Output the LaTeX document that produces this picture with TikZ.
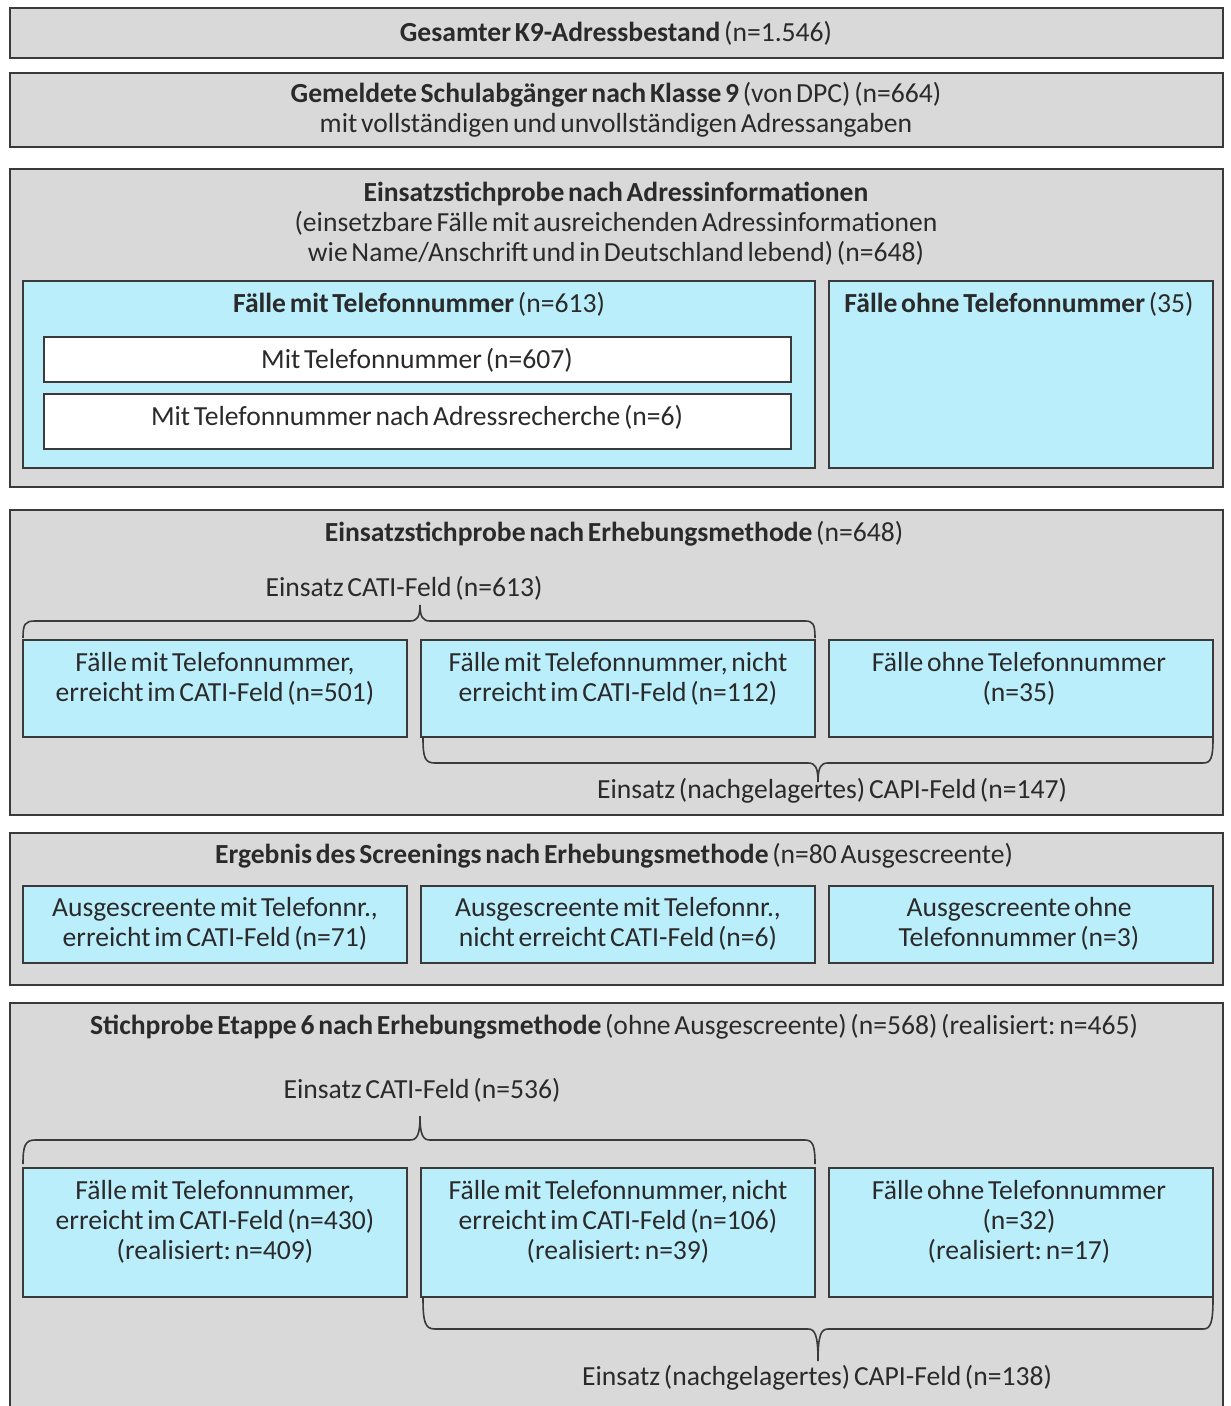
\documentclass[tikz,border=0pt]{standalone}
\usepackage{fontspec}
\setmainfont{Carlito}[WordSpace=0.6]
\usetikzlibrary{fit}
\definecolor{boxgray}{HTML}{D9D9D9}
\definecolor{boxblue}{HTML}{BBEEFB}
\definecolor{edge}{HTML}{3A3A3A}
\definecolor{ink}{HTML}{2A2A2A}
\frenchspacing
\begin{document}
\begin{tikzpicture}[x=0.5pt,y=-0.5pt,
  graybox/.style={draw=edge, fill=boxgray, line width=0.9pt, inner sep=0pt},
  bluebox/.style={draw=edge, fill=boxblue, line width=0.8pt, inner sep=0pt},
  whitebox/.style={draw=edge, fill=white, line width=0.8pt, inner sep=0pt},
  txt/.style={text=ink, font=\fontsize{13.8}{15}\selectfont, align=center, inner sep=0pt},
  bracepath/.style={draw=edge, line width=0.8pt}]
\useasboundingbox (0,0) rectangle (1230,1406);
\clip (0,0) rectangle (1230,1406);

% box 1
\node[graybox, fit={(10,8)(1223,58)}] (b1) {};
\node[txt] (t1) at (616,33) {\textbf{Gesamter K9-Adressbestand} (n=1.546)};

% box 2
\node[graybox, fit={(10,73)(1223,147)}] (b2) {};
\node[txt] (t2) at (616,110) {\textbf{Gemeldete Schulabgänger nach Klasse 9} (von DPC) (n=664)\\mit vollständigen und unvollständigen Adressangaben};

% box 3
\node[graybox, fit={(10,169)(1223,487)}] (b3) {};
\node[txt] (t3) at (616,224) {\textbf{Einsatzstichprobe nach Adressinformationen}\\(einsetzbare Fälle mit ausreichenden Adressinformationen\\wie Name/Anschrift und in Deutschland lebend) (n=648)};
\node[bluebox, fit={(23,281)(815,468)}] (b3l) {};
\node[txt] (t3l) at (419,304) {\textbf{Fälle mit Telefonnummer} (n=613)};
\node[whitebox, fit={(44,337)(791,382)}] (w1) {};
\node[txt] (tw1) at (417,360) {Mit Telefonnummer (n=607)};
\node[whitebox, fit={(44,394)(791,449)}] (w2) {};
\node[txt] (tw2) at (417,417) {Mit Telefonnummer nach Adressrecherche (n=6)};
\node[bluebox, fit={(829,281)(1213,468)}] (b3r) {};
\node[txt] (t3r) at (1019,304) {\textbf{Fälle ohne Telefonnummer} (35)};

% box 4
\node[graybox, fit={(10,510)(1223,815)}] (b4) {};
\node[txt] (t4) at (614,534) {\textbf{Einsatzstichprobe nach Erhebungsmethode} (n=648)};
\node[txt] (cati1) at (404,588) {Einsatz CATI-Feld (n=613)};
\node[bluebox, fit={(23,640)(407,737)}] (c41) {};
\node[bluebox, fit={(421,640)(815,737)}] (c42) {};
\node[bluebox, fit={(829,640)(1213,737)}] (c43) {};
\node[txt, anchor=north] (c41t) at (215,652) {Fälle mit Telefonnummer,\\erreicht im CATI-Feld (n=501)};
\node[txt, anchor=north] (c42t) at (618,652) {Fälle mit Telefonnummer, nicht\\erreicht im CATI-Feld (n=112)};
\node[txt, anchor=north] (c43t) at (1019,652) {Fälle ohne Telefonnummer\\(n=35)};
\draw[bracepath] (23,638) .. controls (23,624) and (25,621) .. (35,621) -- (410,621)
  .. controls (417,621) and (420,617) .. (420,605) .. controls (420,617) and (423,621) .. (430,621)
  -- (805,621) .. controls (813,621) and (815,624) .. (815,638);
\draw[bracepath] (423,738) .. controls (423,758) and (425,763) .. (435,763) -- (808,763)
  .. controls (815,763) and (818,767) .. (818,782) .. controls (818,767) and (821,763) .. (828,763)
  -- (1203,763) .. controls (1211,763) and (1213,758) .. (1213,738);
\node[txt] (capi1) at (832,791) {Einsatz (nachgelagertes) CAPI-Feld (n=147)};

% box 5
\node[graybox, fit={(10,833)(1223,985)}] (b5) {};
\node[txt] (t5) at (614,856) {\textbf{Ergebnis des Screenings nach Erhebungsmethode} (n=80 Ausgescreente)};
\node[bluebox, fit={(23,886)(407,963)}] (c51) {};
\node[bluebox, fit={(421,886)(815,963)}] (c52) {};
\node[bluebox, fit={(829,886)(1213,963)}] (c53) {};
\node[txt, anchor=north] (c51t) at (215,897) {Ausgescreente mit Telefonnr.,\\erreicht im CATI-Feld (n=71)};
\node[txt, anchor=north] (c52t) at (618,897) {Ausgescreente mit Telefonnr.,\\nicht erreicht CATI-Feld (n=6)};
\node[txt, anchor=north] (c53t) at (1019,897) {Ausgescreente ohne\\Telefonnummer (n=3)};

% box 6
\node[graybox, fit={(10,1003)(1223,1430)}] (b6) {};
\node[txt] (t6) at (614,1027) {\textbf{Stichprobe Etappe 6 nach Erhebungsmethode} (ohne Ausgescreente) (n=568) (realisiert: n=465)};
\node[txt] (cati2) at (422,1090) {Einsatz CATI-Feld (n=536)};
\node[bluebox, fit={(23,1168)(407,1297)}] (c61) {};
\node[bluebox, fit={(421,1168)(815,1297)}] (c62) {};
\node[bluebox, fit={(829,1168)(1213,1297)}] (c63) {};
\node[txt, anchor=north] (c61t) at (215,1180) {Fälle mit Telefonnummer,\\erreicht im CATI-Feld (n=430)\\(realisiert: n=409)};
\node[txt, anchor=north] (c62t) at (618,1180) {Fälle mit Telefonnummer, nicht\\erreicht im CATI-Feld (n=106)\\(realisiert: n=39)};
\node[txt, anchor=north] (c63t) at (1019,1180) {Fälle ohne Telefonnummer\\(n=32)\\(realisiert: n=17)};
\draw[bracepath] (23,1164) .. controls (23,1146) and (25,1140) .. (35,1140) -- (410,1140)
  .. controls (417,1140) and (420,1135) .. (420,1116) .. controls (420,1135) and (423,1140) .. (430,1140)
  -- (805,1140) .. controls (813,1140) and (815,1146) .. (815,1164);
\draw[bracepath] (423,1298) .. controls (423,1322) and (425,1329) .. (435,1329) -- (808,1329)
  .. controls (815,1329) and (818,1335) .. (818,1361) .. controls (818,1335) and (821,1329) .. (828,1329)
  -- (1203,1329) .. controls (1211,1329) and (1213,1322) .. (1213,1298);
\node[txt] (capi2) at (817,1378) {Einsatz (nachgelagertes) CAPI-Feld (n=138)};
\end{tikzpicture}
\end{document}
